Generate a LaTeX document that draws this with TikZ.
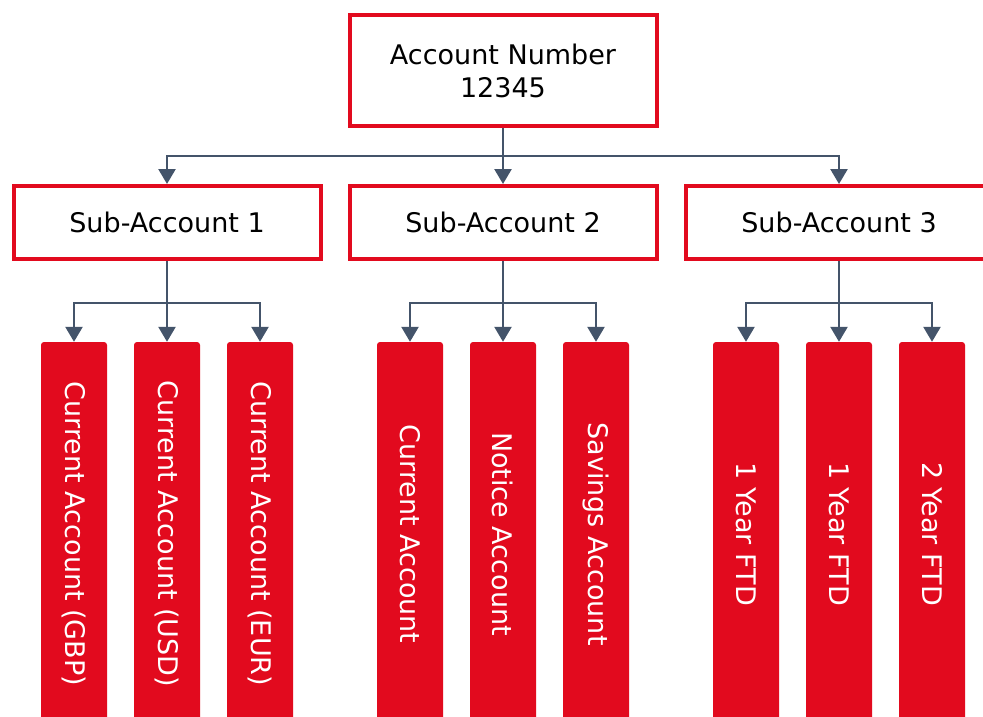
\documentclass[tikz,border=0pt]{standalone}
\usepackage{fontspec}
\setmainfont{DejaVu Sans}
\usetikzlibrary{arrows.meta}
\definecolor{brandred}{HTML}{E20A1E}
\definecolor{slate}{HTML}{44546A}
\begin{document}
\begin{tikzpicture}[x=1pt,y=-1pt,
  topbox/.style={draw=brandred,line width=4pt,fill=white,minimum width=307pt,minimum height=111pt,align=center,inner sep=0pt,font=\fontsize{27}{33}\selectfont},
  subbox/.style={draw=brandred,line width=4pt,fill=white,minimum width=307pt,minimum height=73pt,inner sep=0pt,font=\fontsize{27}{33}\selectfont},
  bar/.style={fill=brandred,rounded corners=3pt,minimum width=66pt,minimum height=384pt,inner sep=0pt},
  bartext/.style={text=white,rotate=-90,inner sep=0pt,font=\fontsize{27}{33}\selectfont},
  conn/.style={draw=slate,line width=2.5pt,-{Triangle[width=17pt,length=15pt]}}
]
\useasboundingbox (0,0) rectangle (983,717);
\fill[white] (0,0) rectangle (983,717);
\node[topbox] (top) at (503,70.5) {Account Number\\12345};
\node[subbox] (s1) at (167,222.5) {Sub-Account 1};
\node[subbox] (s2) at (503,222.5) {Sub-Account 2};
\node[subbox] (s3) at (839,222.5) {Sub-Account 3};
% bars
\node[bar] (b11) at (74,534) {};
\node[bar] (b12) at (167,534) {};
\node[bar] (b13) at (260,534) {};
\node[bar] (b21) at (410,534) {};
\node[bar] (b22) at (503,534) {};
\node[bar] (b23) at (596,534) {};
\node[bar] (b31) at (746,534) {};
\node[bar] (b32) at (839,534) {};
\node[bar] (b33) at (932,534) {};
\node[bartext] (t11) at (b11) {Current Account (GBP)};
\node[bartext] (t12) at (b12) {Current Account (USD)};
\node[bartext] (t13) at (b13) {Current Account (EUR)};
\node[bartext] (t21) at (b21) {Current Account};
\node[bartext] (t22) at (b22) {Notice Account};
\node[bartext] (t23) at (b23) {Savings Account};
\node[bartext] (t31) at (b31) {1 Year FTD};
\node[bartext] (t32) at (b32) {1 Year FTD};
\node[bartext] (t33) at (b33) {2 Year FTD};
% connectors top level
\draw[conn] (top.south) -- (s2.north);
\draw[conn] (top.south) -- ++(0,28) -| (s1.north);
\draw[conn] (top.south) -- ++(0,28) -| (s3.north);
% sub level
\foreach \s/\a/\b/\c in {s1/b11/b12/b13, s2/b21/b22/b23, s3/b31/b32/b33}{
  \draw[conn] (\s.south) -- (\b.north);
  \draw[conn] (\s.south) -- ++(0,42) -| (\a.north);
  \draw[conn] (\s.south) -- ++(0,42) -| (\c.north);
}
\end{tikzpicture}
\end{document}
